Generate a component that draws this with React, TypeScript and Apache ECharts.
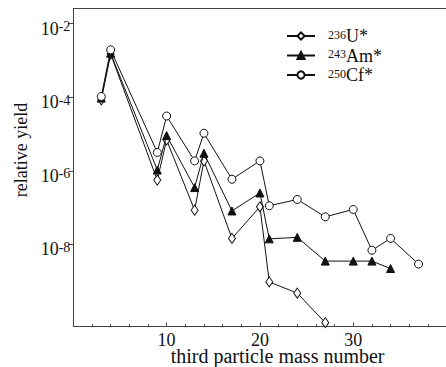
import React, { useEffect, useRef } from "react";
import * as echarts from "echarts";

const seriesNames = ["236U*", "243Am*", "250Cf*"];

const massU = [3, 4, 9, 10, 13, 14, 17, 20, 21, 24, 27];
const yieldU = [8.5e-5, 1.5e-3, 5.6e-7, 6.9e-6, 8.5e-8, 1.86e-6, 1.45e-8, 1.05e-7, 9.5e-10, 4.7e-10, 7.4e-11];

const massAm = [3, 4, 9, 10, 13, 14, 17, 20, 21, 24, 27, 30, 32, 34];
const yieldAm = [9.5e-5, 1.58e-3, 1.05e-6, 9.1e-6, 3.5e-7, 3.0e-6, 8.1e-8, 2.5e-7, 1.41e-8, 1.55e-8, 3.5e-9, 3.5e-9, 3.5e-9, 2.2e-9];

const massCf = [3, 4, 9, 10, 13, 14, 17, 20, 21, 24, 27, 30, 32, 34, 37];
const yieldCf = [1.05e-4, 1.95e-3, 3.16e-6, 3.09e-5, 1.86e-6, 1.05e-5, 5.9e-7, 1.86e-6, 1.12e-7, 1.66e-7, 5.6e-8, 8.9e-8, 6.9e-9, 1.45e-8, 2.9e-9];

const xTickLabels = [10, 20, 30];
const yTickLabels = [1e-8, 1e-6, 1e-4, 1e-2];

const FONT = "Liberation Serif";
const INK = "#111";
const FRAME = "#444";

export default function App() {
  const ref = useRef<HTMLDivElement>(null);
  useEffect(() => {
    const chart = echarts.init(ref.current!, null, { renderer: "svg" });
    const mk = (name: string, xs: number[], ys: number[], symbol: string, size: any, fill: string, z: number) => ({
      name,
      type: "line",
      xAxisIndex: 0,
      data: xs.map((x, i) => [x, ys[i]]),
      symbol,
      symbolSize: size,
      showSymbol: true,
      z,
      lineStyle: { color: INK, width: 1 },
      itemStyle: { color: fill, borderColor: INK, borderWidth: 1 },
      emphasis: { disabled: true },
    });
    chart.setOption({
      animation: false,
      backgroundColor: "#fff",
      textStyle: { fontFamily: FONT, fontSize: 17 },
      grid: {
        left: 73.3,
        top: 8.3,
        width: 382.6,
        height: 318.4,
        show: false,
        outerBoundsMode: "none",
        containLabel: false,
      },
      legend: {
        orient: "vertical",
        left: 281,
        top: 22,
        itemWidth: 28,
        itemHeight: 9,
        itemGap: 0,
        data: seriesNames,
        selectedMode: false,
        formatter: (name: string) => {
          const m = name.match(/^(\d+)(.*)$/);
          return m ? `{sup|${m[1]}}{main|${m[2]}}` : name;
        },
        textStyle: {
          fontFamily: FONT,
          fontSize: 18,
          color: INK,
          padding: [0, 0, 0, 8],
          rich: {
            sup: { fontSize: 12, fontFamily: FONT, color: INK, verticalAlign: "top", lineHeight: 15, padding: [0, 0, 6, 0] },
            main: { fontSize: 18, fontFamily: FONT, color: INK, lineHeight: 15 },
          },
        },
      },
      xAxis: [
        {
          type: "value",
          min: 0,
          max: 41,
          interval: 10,
          name: "third particle mass number",
          nameLocation: "middle",
          nameGap: 20,
          nameMoveOverlap: false,
          nameTextStyle: { fontSize: 20, lineHeight: 18, fontFamily: FONT, color: INK, padding: [0, 0, 0, 26] },
          axisLine: { lineStyle: { color: FRAME, width: 1 } },
          axisTick: { show: true, inside: true, length: 4, lineStyle: { color: FRAME } },
          minorTick: { show: true, splitNumber: 5, length: 2.5, lineStyle: { color: FRAME } },
          splitLine: { show: false },
          axisLabel: {
            formatter: (v: number) => (xTickLabels.indexOf(v) >= 0 ? String(v) : ""),
            fontSize: 18,
            fontFamily: FONT,
            color: INK,
            margin: 4,
          },
        },
        {
          type: "value",
          position: "top",
          min: 0,
          max: 41,
          interval: 10,
          axisLine: { show: true, onZero: false, lineStyle: { color: FRAME, width: 1 } },
          axisTick: { show: false },
          axisLabel: { show: false },
          splitLine: { show: false },
        },
      ],
      yAxis: {
        type: "log",
        logBase: 10,
        min: Math.pow(10, -10.24),
        max: Math.pow(10, -1.58),
        name: "relative yield",
        nameLocation: "middle",
        nameGap: 29,
        nameTextStyle: { fontSize: 18, fontFamily: FONT, color: INK, padding: [0, 0, 0, 35] },
        axisLine: { lineStyle: { color: FRAME, width: 1 } },
        axisTick: { show: true, inside: false, length: 5, customValues: yTickLabels, lineStyle: { color: FRAME } },
        minorTick: { show: false },
        splitLine: { show: false },
        axisLabel: {
          customValues: yTickLabels,
          margin: 3,
          fontSize: 18,
          fontFamily: FONT,
          color: INK,
          formatter: (v: number) => `{b|10}{s|${Math.round(Math.log10(v))}}`,
          padding: [10, 0, 0, 0],
          rich: {
            b: { fontSize: 18, fontFamily: FONT, color: INK, lineHeight: 18 },
            s: { fontSize: 14, fontFamily: FONT, color: INK, verticalAlign: "top", lineHeight: 14 },
          },
        },
      },
      series: [
        mk(seriesNames[0], massU, yieldU, "diamond", [7, 10], "#fff", 2),
        mk(seriesNames[1], massAm, yieldAm, "triangle", [8, 8], INK, 3),
        mk(seriesNames[2], massCf, yieldCf, "circle", 8, "#fff", 4),
      ],
    });
    return () => chart.dispose();
  }, []);
  return <div ref={ref} style={{ position: "fixed", left: 0, top: 0, width: 446, height: 367 }} />;
}
